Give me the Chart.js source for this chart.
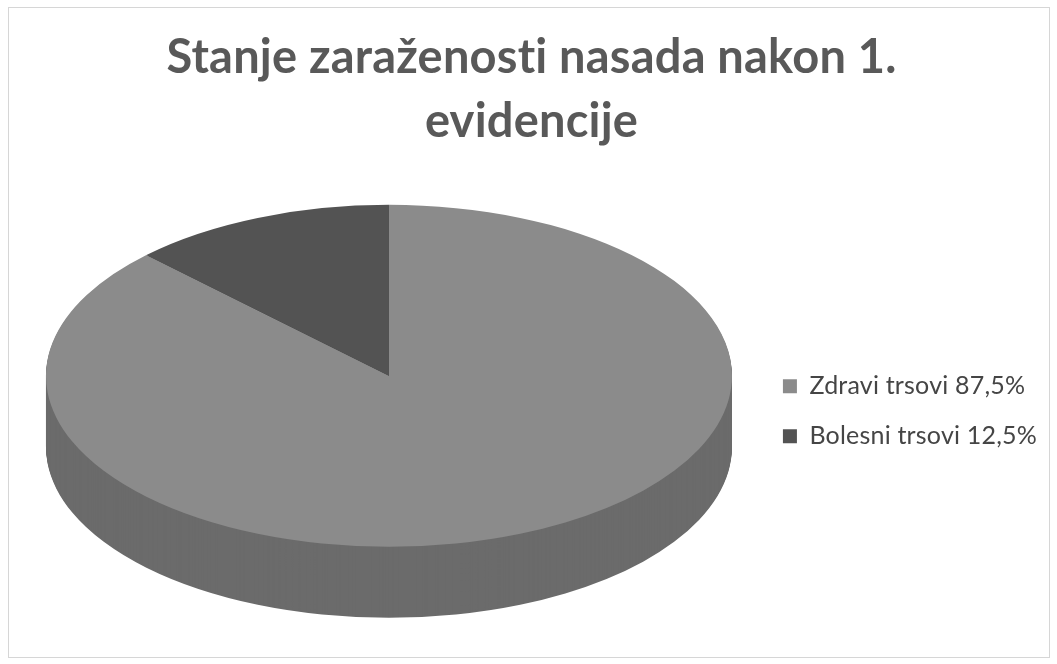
<!DOCTYPE html>
<html>
<head>
<meta charset="utf-8">
<script src="https://cdn.jsdelivr.net/npm/chart.js@4"></script>
<style>
  html, body { margin: 0; padding: 0; background: #fff; }
  #wrap { position: absolute; left: 0; top: 0; width: 1057px; height: 664px; }
  #frame { position: absolute; left: 8px; top: 7px; width: 1040px; height: 649px; border: 1px solid #d6d6d6; }
  canvas { position: absolute; left: 0; top: 0; }
</style>
</head>
<body>
<div id="wrap">
  <div id="frame"></div>
  <canvas id="myChart" width="1057" height="664"></canvas>
</div>
<script>
// Data
const categories = ['Zdravi trsovi 87,5%', 'Bolesni trsovi 12,5%'];
const shares = [87.5, 12.5];
const titleLines = ['Stanje zaraženosti nasada nakon 1.', 'evidencije'];

// Look of the fake 3D pie
const sliceColors = ['#8b8b8b', '#535353'];
const rx = 343;     // half width of the top face
const ry = 171;     // half height of the top face
const depth = 71;   // thickness of the side wall

// Squash the pie into an ellipse and extrude a side wall under it
const pie3d = {
  id: 'pie3d',
  beforeDraw(chart) {
    // a tiny letter spacing keeps Lato from joining "ti"
    chart.ctx.letterSpacing = '0.2px';
  },
  beforeDatasetsDraw(chart) {
    const ctx = chart.ctx;
    const arcs = chart.getDatasetMeta(0).data;
    const cx = arcs[0].x, cy = arcs[0].y, R = arcs[0].outerRadius;
    const kx = rx / R, ky = ry / R;
    const topY = cy - depth / 2;
    const place = (dy) => {
      ctx.translate(cx, topY + dy);
      ctx.scale(kx, ky);
      ctx.translate(-cx, -cy);
    };
    for (let d = depth; d > 0; d--) {
      ctx.save();
      place(d);
      ctx.filter = 'brightness(0.77)';
      arcs.forEach(a => a.draw(ctx));
      ctx.restore();
    }
    ctx.save();
    place(0);
  },
  afterDatasetsDraw(chart) {
    chart.ctx.restore();
  }
};

const ctx = document.getElementById('myChart').getContext('2d');
const myChart = new Chart(ctx, {
  type: 'pie',
  data: {
    labels: categories,
    datasets: [{
      data: shares,
      backgroundColor: sliceColors,
      borderWidth: 0,
      clip: false
    }]
  },
  options: {
    responsive: false,
    animation: false,
    layout: { padding: { left: 20, right: 14, top: 8, bottom: 12 } },
    plugins: {
      title: {
        display: true,
        text: titleLines,
        color: '#595959',
        font: { family: 'Lato', size: 47, weight: 'bold', lineHeight: 1.38 },
        padding: { top: 17, bottom: 16 }
      },
      legend: {
        position: 'right',
        fullSize: false,
        labels: {
          color: '#454545',
          font: { family: 'Lato', size: 25 },
          boxWidth: 14,
          boxHeight: 14,
          padding: 25
        }
      },
      tooltip: { enabled: false }
    }
  },
  plugins: [pie3d]
});
</script>
</body>
</html>
